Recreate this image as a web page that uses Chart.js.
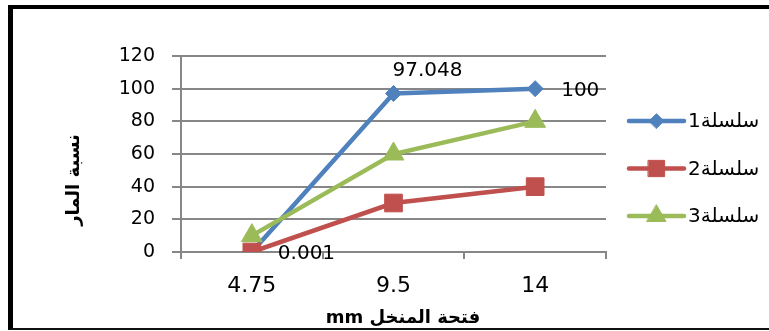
<!DOCTYPE html>
<html>
<head>
<meta charset="utf-8">
<script src="https://cdn.jsdelivr.net/npm/chart.js@4/dist/chart.umd.min.js"></script>
<style>
  html, body { margin: 0; padding: 0; background: #fff; overflow: hidden; width: 769px; height: 331px; }
  #wrap { position: absolute; left: 0; top: 0; width: 769px; height: 331px; }
  #c { position: absolute; left: 0; top: 0; }
  #frame {
    position: absolute; left: 8px; top: 5px; width: 900px; height: 319px;
    border-left: 5px solid #000; border-top: 4px solid #000; border-bottom: 2px solid #111;
    pointer-events: none;
  }
</style>
</head>
<body>
<div id="wrap">
  <canvas id="c" width="769" height="331"></canvas>
  <div id="frame"></div>
</div>
<script>
// Sieve opening (mm) and passing percentage for three test series
const categories = ['4.75', '9.5', '14'];
const series1 = [0.001, 97.048, 100];
const series2 = [0, 30, 40];
const series3 = [10, 60, 80];
const seriesNames = ['سلسلة1', 'سلسلة2', 'سلسلة3'];
const yTicks = [0, 20, 40, 60, 80, 100, 120];
const xTitle = 'mm فتحة المنخل';
const yTitle = 'نسبة المار';

const GRID = '#878787';
const FONT = 'DejaVu Sans';
const COLORS = ['#4F81BD', '#C0504D', '#9BBB59'];
const STYLES = [
  { pointStyle: 'rectRot', radius: 8 },
  { pointStyle: 'rect', radius: 12.5 },
  { pointStyle: 'triangle', radius: 12 }
];

// Value labels for the first series: where each label sits around its point
const valueLabels = {
  id: 'valueLabels',
  afterDatasetsDraw(chart) {
    const ctx = chart.ctx;
    const meta = chart.getDatasetMeta(0);
    const place = ['right', 'above', 'right'];
    ctx.save();
    ctx.font = '20px "' + FONT + '"';
    ctx.fillStyle = '#000';
    ctx.textAlign = 'left';
    ctx.textBaseline = 'middle';
    meta.data.forEach((pt, i) => {
      const txt = String(series1[i]);
      if (place[i] === 'above') {
        ctx.fillText(txt, pt.x - 1, pt.y - 23);
      } else {
        ctx.fillText(txt, pt.x + 26, pt.y + 2);
      }
    });
    ctx.restore();
  }
};

// Axis titles and the right-hand legend (line with marker in the middle)
const decorations = {
  id: 'decorations',
  afterDraw(chart) {
    const ctx = chart.ctx;
    const area = chart.chartArea;
    ctx.save();
    ctx.fillStyle = '#000';
    ctx.font = 'bold 18px "' + FONT + '"';
    ctx.textAlign = 'center';
    ctx.textBaseline = 'middle';
    ctx.fillText(xTitle, 403, 318);
    ctx.save();
    ctx.translate(74, 180);
    ctx.rotate(-Math.PI / 2);
    ctx.fillText(yTitle, 0, 0);
    ctx.restore();

    const x0 = area.right + 23, x1 = area.right + 78, mx = (x0 + x1) / 2;
    seriesNames.forEach((name, i) => {
      const y = 121 + i * 47.5;
      ctx.strokeStyle = COLORS[i];
      ctx.fillStyle = COLORS[i];
      ctx.lineWidth = 4.5;
      ctx.lineCap = 'round';
      ctx.beginPath();
      ctx.moveTo(x0, y);
      ctx.lineTo(x1, y);
      ctx.stroke();
      ctx.lineWidth = 1;
      Chart.helpers.drawPoint(ctx, {
        pointStyle: STYLES[i].pointStyle,
        radius: STYLES[i].radius * 0.92,
        rotation: 0,
        borderWidth: 1
      }, mx, y);
      ctx.fillStyle = '#000';
      ctx.font = '20px "' + FONT + '"';
      ctx.textAlign = 'left';
      ctx.fillText(name, x1 + 4, y + 1);
    });
    ctx.restore();
  }
};

const seriesData = [series1, series2, series3];
const datasets = seriesData.map((vals, i) => ({
  label: seriesNames[i],
  data: vals,
  borderColor: COLORS[i],
  backgroundColor: COLORS[i],
  borderWidth: 4.5,
  tension: 0,
  pointStyle: STYLES[i].pointStyle,
  pointRadius: STYLES[i].radius,
  pointBorderWidth: 1,
  pointBackgroundColor: COLORS[i],
  pointBorderColor: COLORS[i],
  order: [3, 1, 2][i]
}));

new Chart(document.getElementById('c'), {
  type: 'line',
  data: { labels: categories, datasets },
  options: {
    responsive: false,
    animation: false,
    devicePixelRatio: 1,
    layout: { padding: { top: 56, right: 163, bottom: 0, left: 0 } },
    plugins: { legend: { display: false }, tooltip: { enabled: false } },
    scales: {
      x: {
        type: 'category',
        offset: true,
        grid: { offset: true, drawOnChartArea: false, drawTicks: true, tickLength: 7, color: GRID, lineWidth: 2 },
        border: { display: true, color: GRID, width: 2 },
        ticks: { font: { family: FONT, size: 22 }, color: '#000', padding: 14, maxRotation: 0 },
        afterFit(s) { s.height = 79; }
      },
      y: {
        min: yTicks[0],
        max: yTicks[yTicks.length - 1],
        ticks: { stepSize: yTicks[1] - yTicks[0], font: { family: FONT, size: 19 }, color: '#000', padding: 17 },
        grid: { color: GRID, lineWidth: 2, tickLength: 9 },
        border: { display: true, color: GRID, width: 2 },
        afterFit(s) { s.width = 181; }
      }
    }
  },
  plugins: [valueLabels, decorations]
});
</script>
</body>
</html>
